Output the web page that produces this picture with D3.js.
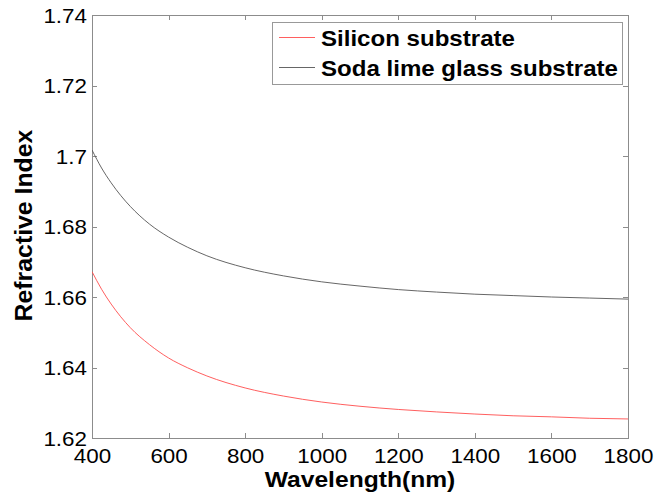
<!DOCTYPE html>
<html>
<head>
<meta charset="utf-8">
<script src="https://cdn.jsdelivr.net/npm/d3@7"></script>
<style>
  html, body { margin: 0; padding: 0; background: #fff; }
  svg { display: block; }
  text { font-family: Arial, "Liberation Sans", Helvetica, sans-serif; fill: #000; }
</style>
</head>
<body>
<svg id="chart" width="656" height="498"></svg>
<script>
// Wavelength samples (nm) and refractive index of the coating on each substrate
const wavelength = [400, 425, 450, 475, 500, 550, 600, 650, 700, 800, 900, 1000, 1100, 1200, 1300, 1400, 1500, 1600, 1700, 1800];
const siliconIndex = [1.6672, 1.6622, 1.6580, 1.6544, 1.6513, 1.6465, 1.6427, 1.6399, 1.6376, 1.6342, 1.6319, 1.6302, 1.6290, 1.6281, 1.6274, 1.6268, 1.6263, 1.6260, 1.6256, 1.6254];
const sodaLimeIndex = [1.7017, 1.6966, 1.6924, 1.6888, 1.6857, 1.6807, 1.6770, 1.6741, 1.6717, 1.6683, 1.6660, 1.6643, 1.6631, 1.6621, 1.6614, 1.6608, 1.6604, 1.6600, 1.6597, 1.6594];

const xTicks = [400, 600, 800, 1000, 1200, 1400, 1600, 1800];
const yTicks = [1.62, 1.64, 1.66, 1.68, 1.70, 1.72, 1.74];
const yTickLabels = ["1.62", "1.64", "1.66", "1.68", "1.7", "1.72", "1.74"];

const seriesNames = ["Silicon substrate", "Soda lime glass substrate"];
const seriesColors = ["#ff4d4d", "#555555"];

const svg = d3.select("#chart");
const margin = { left: 92, right: 28, top: 15, bottom: 60 };
const W = 656, H = 498;
const plotW = W - margin.left - margin.right;   // 536
const plotH = H - margin.top - margin.bottom;   // 423

const x = d3.scaleLinear().domain([400, 1800]).range([0, plotW]);
const y = d3.scaleLinear().domain([1.62, 1.74]).range([plotH, 0]);

const g = svg.append("g").attr("transform", `translate(${margin.left},${margin.top})`);

const stretch = 1.12;   // horizontally widened glyphs
const axisColor = "#8c8c8c";

function styleAxis(sel) {
  sel.select(".domain").attr("stroke", axisColor).attr("stroke-width", 1).attr("shape-rendering", "crispEdges");
  sel.selectAll(".tick line").attr("stroke", axisColor).attr("shape-rendering", "crispEdges");
}

// Bottom axis with labels
const gx = g.append("g").attr("transform", `translate(0,${plotH})`)
  .call(d3.axisBottom(x).tickValues(xTicks).tickFormat(d3.format("d")).tickSizeInner(-5).tickSizeOuter(0).tickPadding(0));
styleAxis(gx);
gx.selectAll(".tick text")
  .attr("y", 25).attr("dy", null)
  .attr("font-size", 20).attr("fill", "#000")
  .attr("transform", `scale(${stretch},1)`);

// Left axis with labels
const gy = g.append("g")
  .call(d3.axisLeft(y).tickValues(yTicks).tickFormat((d, i) => yTickLabels[i]).tickSizeInner(-5).tickSizeOuter(0).tickPadding(0));
styleAxis(gy);
gy.selectAll(".tick text")
  .attr("x", -4.5).attr("dy", "0.35em")
  .attr("font-size", 20).attr("fill", "#000")
  .attr("transform", `scale(${stretch},1)`);

// Top and right axes: ticks only, closing the box
const gt = g.append("g")
  .call(d3.axisTop(x).tickValues(xTicks).tickFormat("").tickSizeInner(-5).tickSizeOuter(0));
styleAxis(gt);
const gr = g.append("g").attr("transform", `translate(${plotW},0)`)
  .call(d3.axisRight(y).tickValues(yTicks).tickFormat("").tickSizeInner(-5).tickSizeOuter(0));
styleAxis(gr);

// Curves
g.append("clipPath").attr("id", "plotClip")
  .append("rect").attr("width", plotW).attr("height", plotH);

const line = d3.line()
  .x((d, i) => x(wavelength[i]))
  .y(d => y(d))
  .curve(d3.curveMonotoneX);

[siliconIndex, sodaLimeIndex].forEach((vals, k) => {
  g.append("path")
    .datum(vals)
    .attr("clip-path", "url(#plotClip)")
    .attr("fill", "none")
    .attr("stroke", seriesColors[k])
    .attr("stroke-width", 0.9)
    .attr("d", line);
});

// Axis titles
svg.append("text")
  .attr("transform", `translate(${margin.left + plotW / 2},487) scale(${stretch},1)`)
  .attr("text-anchor", "middle")
  .attr("font-size", 22).attr("font-weight", "bold")
  .text("Wavelength(nm)");

svg.append("text")
  .attr("transform", `translate(32,${margin.top + plotH / 2 - 1}) rotate(-90) scale(1.08,1.0)`)
  .attr("text-anchor", "middle")
  .attr("font-size", 23).attr("font-weight", "bold")
  .text("Refractive Index");

// Legend
const lg = svg.append("g").attr("transform", "translate(272,22)");
lg.append("rect")
  .attr("width", 350).attr("height", 62)
  .attr("fill", "#fff").attr("stroke", "#999").attr("stroke-width", 1)
  .attr("shape-rendering", "crispEdges");
seriesNames.forEach((name, k) => {
  const cy = 15.5 + k * 30;
  lg.append("line")
    .attr("x1", 7).attr("x2", 43).attr("y1", cy).attr("y2", cy)
    .attr("stroke", seriesColors[k]).attr("stroke-width", 0.9);
  lg.append("text")
    .attr("transform", `translate(49,${cy + 8}) scale(${stretch},1)`)
    .attr("font-size", 21.5).attr("font-weight", "bold")
    .text(name);
});
</script>
</body>
</html>
